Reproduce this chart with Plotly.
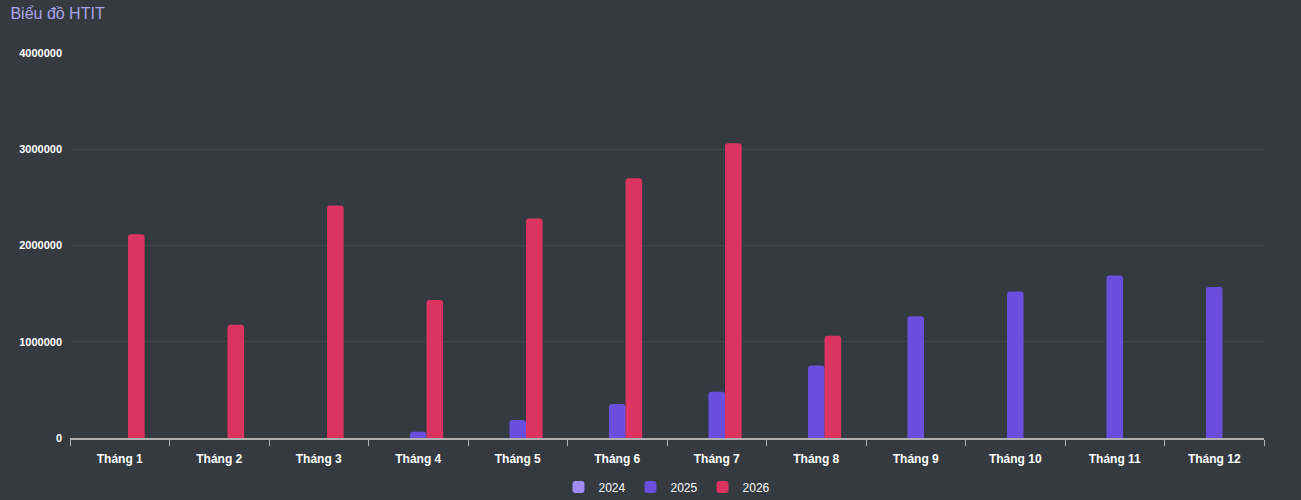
import plotly.graph_objects as go

# Categories and values
months = ['Tháng 1', 'Tháng 2', 'Tháng 3', 'Tháng 4', 'Tháng 5', 'Tháng 6',
          'Tháng 7', 'Tháng 8', 'Tháng 9', 'Tháng 10', 'Tháng 11', 'Tháng 12']
values_2024 = [None] * 12
values_2025 = [None, None, None, 65000, 187000, 353000,
               481000, 752000, 1264000, 1523000, 1689000, 1568000]
values_2026 = [2118000, 1177000, 2415000, 1434000, 2280000, 2700000,
               3062000, 1063000, None, None, None, None]

series = [
    ('2024', values_2024, '#a08cf2'),
    ('2025', values_2025, '#6a4fdc'),
    ('2026', values_2026, '#dc3460'),
]

fig = go.Figure()
for name, vals, color in series:
    fig.add_trace(go.Bar(
        x=months, y=vals, name=name,
        marker=dict(color=color, cornerradius=3, line=dict(width=0)),
    ))

fig.update_layout(
    width=1301, height=500,
    paper_bgcolor='#343a40', plot_bgcolor='#343a40',
    font=dict(family='Liberation Sans, Arial, sans-serif', color='#ffffff'),
    margin=dict(l=70, r=37, t=53, b=62),
    barmode='group', bargap=0.5, bargroupgap=0,
    title=dict(text='Biểu đồ HTIT', x=0.008, xanchor='left', y=0.974, yanchor='middle',
               font=dict(size=16, color='#a9a5ec')),
    showlegend=True,
    legend=dict(orientation='h', x=0.5, xanchor='center',
                yref='container', y=0.026, yanchor='middle',
                font=dict(size=12, color='#ffffff'), itemwidth=30, tracegroupgap=0),
)

fig.update_xaxes(
    automargin=False,
    showgrid=False, showline=True, linecolor='#b0b0b0', linewidth=2,
    ticks='outside', tickson='boundaries', ticklen=6, tickcolor='#b0b0b0',
    ticklabelstandoff=9,
    tickfont=dict(size=12, color='#ffffff', weight='bold'),
)
fig.update_yaxes(
    automargin=False,
    range=[0, 4000000], dtick=1000000, tickformat='d',
    showgrid=True, gridcolor='rgba(70,95,75,0.45)', gridwidth=1,
    zeroline=False, showline=False, ticks='', ticklabelstandoff=7,
    tickfont=dict(size=11, color='#ffffff', weight='bold'),
)

# remove the default page margin so the chart fills the window
fig.write_html("out.html", config={'displayModeBar': False},
               post_script="document.body.style.margin='0';")
